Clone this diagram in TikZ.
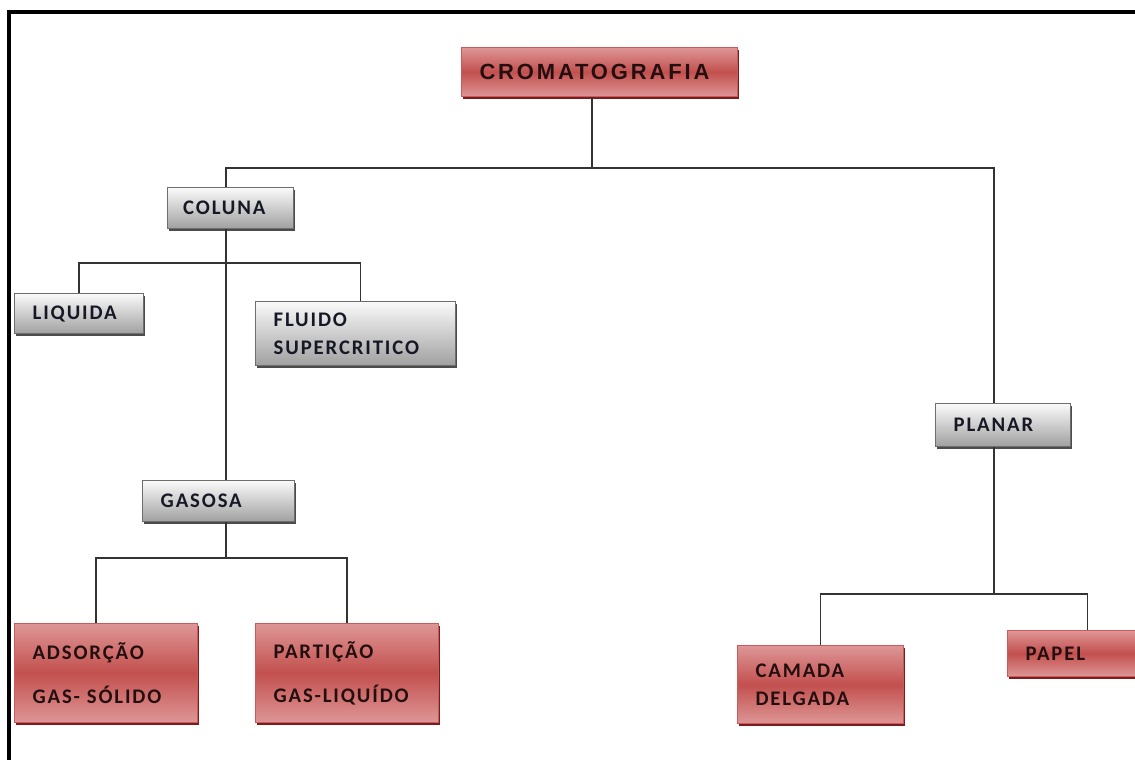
\documentclass[tikz,border=0pt]{standalone}
\usepackage{fontspec}
\newfontfamily\boxfont[LetterSpace=9]{Carlito}
\newfontfamily\titlefont[LetterSpace=13]{Liberation Sans}
\usetikzlibrary{
  calc,
  positioning
}
\definecolor{redtop}{RGB}{222,150,150}
\definecolor{redmid}{RGB}{194,80,78}
\definecolor{redline}{RGB}{205,90,90}
\definecolor{redshadow}{RGB}{120,30,30}
\definecolor{graytop}{RGB}{250,250,250}
\definecolor{graybot}{RGB}{160,160,160}
\definecolor{grayline}{RGB}{110,110,110}
\definecolor{inkblue}{RGB}{22,24,38}
\definecolor{inkred}{RGB}{35,15,15}

\begin{document}
\begin{tikzpicture}[x=0.02cm,y=-0.02cm,
    box/.style={rectangle,anchor=north west,inner xsep=0.36cm,inner ysep=0pt,
      align=left,font=\boxfont\bfseries\fontsize{11.8}{13}\selectfont},
    graybox/.style={box,draw=grayline,line width=0.8pt,top color=graytop,bottom color=graybot,
      text=inkblue,preaction={fill=black!70,transform canvas={shift={(0.6pt,-1.2pt)}}}},
    redbox/.style={box,draw=redline,line width=0.6pt,top color=redtop,bottom color=redtop,
      middle color=redmid,text=inkred,
      preaction={fill=redshadow,transform canvas={shift={(0.6pt,-1.4pt)}}}},
    link/.style={draw=black!80,line width=0.8pt}]
    \clip (0,0) rectangle (1135,760);
    \fill[white] (0,0) rectangle (1135,760);
    \draw[line width=2.3pt] (9,760) -- (9,12) -- (1135,12);

    \node[redbox,minimum width=5.52cm,minimum height=0.98cm,text width=4.8cm,
      font=\titlefont\bfseries\fontsize{12.5}{14}\selectfont] (crom) at (461,47) {CROMATOGRAFIA\\[4pt]};
    \node[graybox,minimum width=2.52cm,minimum height=0.82cm,text width=1.9cm,inner xsep=0.3cm] (coluna) at (167,187) {COLUNA};
    \node[graybox,minimum width=2.58cm,minimum height=0.80cm,text width=1.86cm] (liquida) at (14,293) {LIQUIDA};
    \node[graybox,minimum width=4.0cm,minimum height=1.28cm,text width=3.28cm] (fluido) at (255,301) {FLUIDO\\[3pt]SUPERCRITICO};
    \node[graybox,minimum width=3.04cm,minimum height=0.82cm,text width=2.32cm] (gasosa) at (142,480) {GASOSA};
    \node[redbox,minimum width=3.66cm,minimum height=1.98cm,text width=2.94cm] (adsorcao) at (14,623) {ADSORÇÃO\\[12pt]GAS- SÓLIDO};
    \node[redbox,minimum width=3.66cm,minimum height=1.98cm,text width=2.94cm] (particao) at (255,623) {PARTIÇÃO\\[12pt]GAS-LIQUÍDO};
    \node[graybox,minimum width=2.70cm,minimum height=0.86cm,text width=1.98cm] (planar) at (935,403) {PLANAR};
    \node[redbox,minimum width=3.32cm,minimum height=1.56cm,text width=2.6cm] (camada) at (737,645) {CAMADA\\[3pt]DELGADA};
    \node[redbox,minimum width=3.2cm,minimum height=0.92cm,text width=2.48cm] (papel) at (1007,630) {PAPEL};

    \coordinate (j1) at (592,168);
    \coordinate (jc) at (226,263);
    \coordinate (jg) at (226,558);
    \coordinate (jp) at (994,594);

    \draw[link] (j1 |- crom.south) -- (j1);
    \draw[link] (j1) -| (jc |- coluna.north);
    \draw[link] (j1) -| (jp |- planar.north);
    \draw[link] (jc |- coluna.south) -- (jc |- gasosa.north);
    \draw[link] (liquida.north) |- (jc) -| ([xshift=0.1cm]fluido.north);
    \draw[link] (jg |- gasosa.south) -- (jg);
    \draw[link] ([xshift=-0.2cm]adsorcao.north) |- (jg) -| (particao.north);
    \draw[link] (jp |- planar.south) -- (jp);
    \draw[link] (camada.north) |- (jp) -| (papel.north);
  \end{tikzpicture}
\end{document}
